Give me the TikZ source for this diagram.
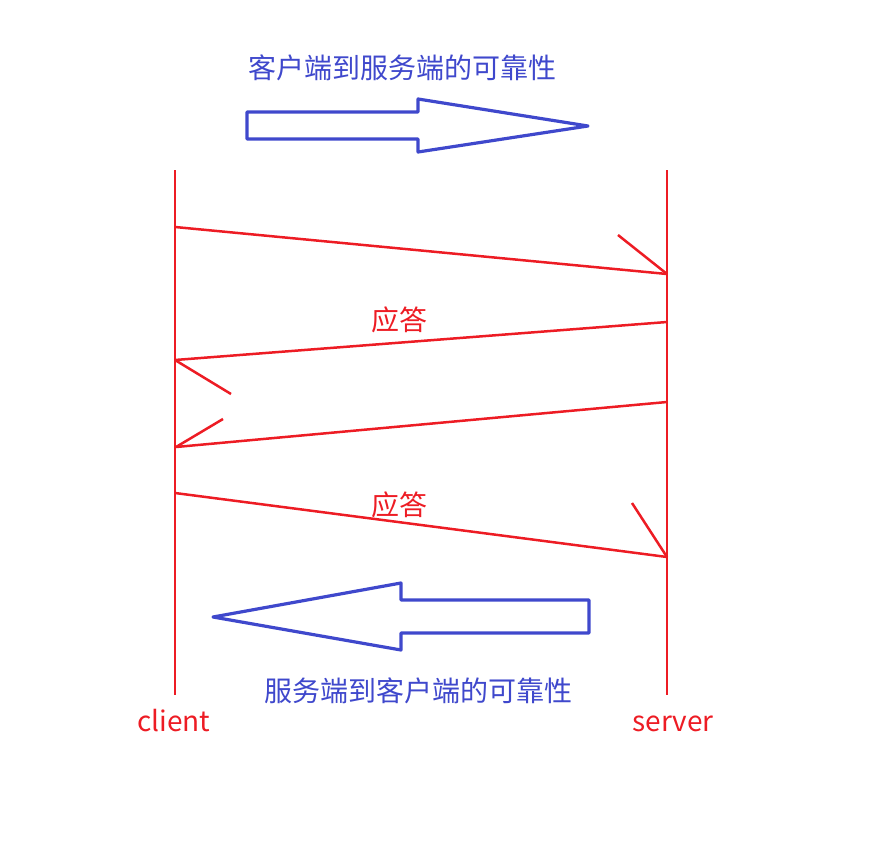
\documentclass[tikz,border=0pt]{standalone}
\usepackage{fontspec}
\setmainfont{Noto Sans CJK SC}
\definecolor{lred}{RGB}{237,28,36}
\definecolor{lblue}{RGB}{63,72,204}
\begin{document}
\begin{tikzpicture}[x=1pt,y=-1pt,
  redline/.style={draw=lred,line width=2.5pt},
  blueline/.style={draw=lblue,line width=3.2pt,line join=round},
  redtxt/.style={text=lred,font=\fontsize{28}{28}\selectfont,inner sep=0pt},
  bluetxt/.style={text=lblue,font=\fontsize{28}{28}\selectfont,inner sep=0pt}]
\useasboundingbox (0,0) rectangle (872,840);
% lifelines
\coordinate (ctop) at (175,170); \coordinate (cbot) at (175,695);
\coordinate (stop) at (667,170); \coordinate (sbot) at (667,695);
\draw[redline] (ctop) -- (cbot);
\draw[redline] (stop) -- (sbot);
% messages
\coordinate (m1a) at (175,227); \coordinate (m1b) at (667,274); \coordinate (h1) at (618,235);
\coordinate (m2a) at (667,322); \coordinate (m2b) at (175,360); \coordinate (h2) at (231,394);
\coordinate (m3a) at (667,402); \coordinate (m3b) at (176,447); \coordinate (h3) at (223,419);
\coordinate (m4a) at (175,493); \coordinate (m4b) at (667,557); \coordinate (h4) at (632,503);
\draw[redline] (m1a) -- (m1b);
\draw[redline] (h1) -- (m1b);
\draw[redline] (m2a) -- (m2b);
\draw[redline] (h2) -- (m2b);
\draw[redline] (m3a) -- (m3b);
\draw[redline] (h3) -- (m3b);
\draw[redline] (m4a) -- (m4b);
\draw[redline] (h4) -- (m4b);
% labels
\node[redtxt] (ack1) at (399,320) {应答};
\node[redtxt] (ack2) at (399,505) {应答};
\node[redtxt,anchor=base] (client) at (174,731) {client};
\node[redtxt,anchor=base] (server) at (673,731) {server};
\node[bluetxt] (t1) at (402,68) {客户端到服务端的可靠性};
\node[bluetxt] (t2) at (418,691) {服务端到客户端的可靠性};
% block arrows
\draw[blueline] (247,112) -- (418,112) -- (418,99) -- (588,126) -- (418,152) -- (418,139) -- (247,139) -- cycle;
\draw[blueline] (589,600) -- (401,600) -- (401,583) -- (213,617) -- (401,650) -- (401,633) -- (589,633) -- cycle;
\end{tikzpicture}
\end{document}
